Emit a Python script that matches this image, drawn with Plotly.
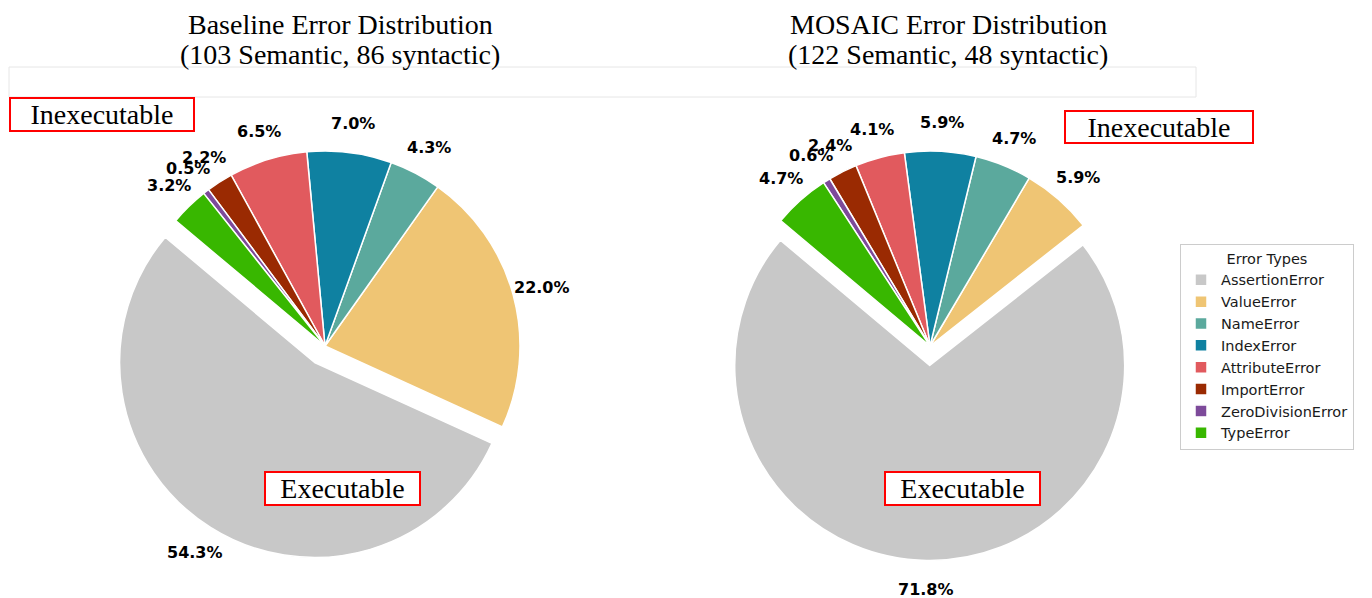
import math
import plotly.graph_objects as go

# ---------------- data ----------------
error_types = ["AssertionError", "ValueError", "NameError", "IndexError",
               "AttributeError", "ImportError", "ZeroDivisionError", "TypeError"]
baseline_pct = [54.3, 22.0, 4.3, 7.0, 6.5, 2.2, 0.5, 3.2]
mosaic_pct = [71.8, 5.9, 4.7, 5.9, 4.1, 2.4, 0.6, 4.7]
slice_colors = ["#C8C8C8", "#EFC574", "#5BA99D", "#0F81A1",
                "#E15A5E", "#9A2A02", "#7D4A9A", "#38B700"]
baseline_title = ["Baseline Error Distribution", "(103 Semantic, 86 syntactic)"]
mosaic_title = ["MOSAIC Error Distribution", "(122 Semantic, 48 syntactic)"]
pull = [0.1, 0, 0, 0, 0, 0, 0, 0]

# ---------------- layout params ----------------
OFF = 8                      # page body margin of the browser
W, H = 1372 - OFF, 598 - OFF
R = 195                      # pie radius in px
START = 140                  # matplotlib-style start angle (deg, ccw from +x)
PCTDIST = 1.15
pies = [
    dict(vals=baseline_pct, cx=325, cy=346, title=baseline_title, tx=340),
    dict(vals=mosaic_pct, cx=930, cy=346, title=mosaic_title, tx=948),
]

def px(x):
    return (x - OFF) / W

def py(y):
    return 1 - (y - OFF) / H

fig = go.Figure()
annotations = []
half = R * (1 + max(pull))

for i, p in enumerate(pies):
    vals = p["vals"]
    total = sum(vals)
    rot = 90 - (START + 360 * vals[0] / total)
    fig.add_trace(go.Pie(
        labels=error_types, values=vals, sort=False,
        direction="counterclockwise", rotation=rot,
        pull=pull, textinfo="none", hoverinfo="label+percent",
        marker=dict(colors=slice_colors, line=dict(color="white", width=1.5)),
        domain=dict(x=[px(p["cx"] - half), px(p["cx"] + half)],
                    y=[py(p["cy"] + half), py(p["cy"] - half)]),
        showlegend=(i == 0),
    ))
    cum = 0
    for v, pl in zip(vals, pull):
        mid = math.radians(START + 360 * (cum + v / 2) / total)
        cum += v
        rr = (PCTDIST + pl) * R
        x = p["cx"] + rr * math.cos(mid)
        y = p["cy"] - rr * math.sin(mid)
        annotations.append(dict(
            x=px(x), y=py(y), xref="paper", yref="paper",
            text=f"{v:.1f}%", showarrow=False, xanchor="center", yanchor="middle",
            font=dict(family="DejaVu Sans", size=16, color="black", weight="bold"),
        ))
    for line_text, ty in zip(p["title"], [24, 55]):
        annotations.append(dict(
            x=px(p["tx"]), y=py(ty), xref="paper", yref="paper",
            text=line_text, showarrow=False, xanchor="center", yanchor="middle",
            font=dict(family="Liberation Serif", size=28, color="black"),
        ))

# boxed labels
boxes = [
    ("Inexecutable", 102, 114.5, 182, 31),
    ("Inexecutable", 1159, 126.5, 186, 30),
    ("Executable", 342, 488.5, 153, 31),
    ("Executable", 962, 488.5, 153, 31),
]
for text, bx, by, bw, bh in boxes:
    annotations.append(dict(
        x=px(bx), y=py(by), xref="paper", yref="paper",
        text=text, showarrow=False, xanchor="center", yanchor="middle",
        width=bw, height=bh, borderpad=0, borderwidth=2,
        bordercolor="#FF0000", bgcolor="white",
        font=dict(family="Liberation Serif", size=28, color="black"),
    ))

fig.update_layout(
    width=W, height=H,
    margin=dict(l=0, r=0, t=0, b=0),
    paper_bgcolor="white", plot_bgcolor="white",
    annotations=annotations,
    shapes=[dict(type="rect", xref="paper", yref="paper",
                 x0=px(9), x1=px(1196), y0=py(97), y1=py(67),
                 line=dict(color="#E6E6E6", width=1), layer="below")],
    legend=dict(
        x=px(1180), y=py(244), xanchor="left", yanchor="top",
        bordercolor="#CCCCCC", borderwidth=1, bgcolor="white",
        font=dict(family="DejaVu Sans", size=14.5, color="#1a1a1a"),
        title=dict(text="Error Types", side="top center",
                   font=dict(family="DejaVu Sans", size=14.5, color="#1a1a1a")),
    ),
)

fig.write_html("out.html")
